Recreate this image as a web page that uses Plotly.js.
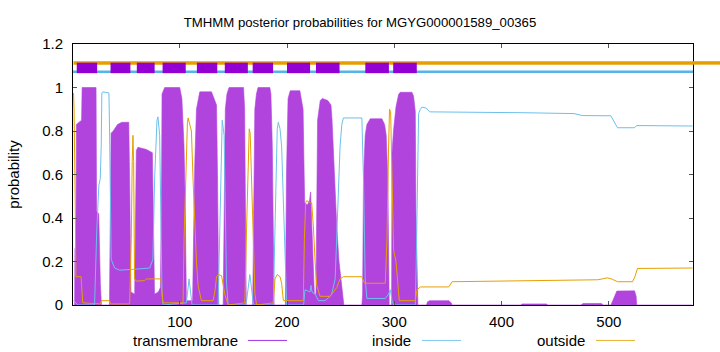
<!DOCTYPE html>
<html>
<head>
<meta charset="utf-8">
<script src="https://cdn.plot.ly/plotly-3.0.1.min.js"></script>
<style>html,body{margin:0;padding:0;background:#fff;}#chart{width:720px;height:352px;}</style>
</head>
<body>
<div id="chart"></div>
<script>
// Title and labels
const chartTitle = "TMHMM posterior probabilities for MGYG000001589_00365";
const seqLength = 578;

// Predicted transmembrane segments (top track), residue start/end
const tmSegStart = [4, 35.5, 60, 84, 116, 142, 168, 200, 227, 273, 299];
const tmSegEnd   = [23, 54, 76.6, 105.6, 135, 163.5, 187, 221.5, 249, 295, 321];

// Transmembrane posterior probability
const tmPos = [1,2,2.3,3.2,3.7,8.5,9,22,22.5,24.5,26,27,
 34.5,35.2,36,38,42,46,52.5,53.5,54.5,58,58.6,59.5,61,66,69,74.5,75.5,76.5,80,82,83,83.5,86,100,102,104,105,105.7,106.2,112,113.4,114,115.6,118.7,129.6,132,134.3,135.2,136.4,
 140.5,141.5,142.5,144,146,159.5,160.5,161.5,162,
 168,169,170,171.5,173,184,185,186.3,187.5,188,
 198.5,199.5,201,203,212,213.5,215,216,216.5,219,221,222,222.5,224.5,225.5,227,227.7,228.5,231,233,238,241,242,244,246.5,248.5,250.5,252,253,
 269.8,270.5,271.3,272.9,274.5,277.6,288.5,291,292.5,294,295.3,
 297.5,297.9,299.4,301.6,304,305.6,316.5,318,319.6,320.2,321,322,
 330,331,333,351,353,354,
 418,419,442,443,
 474,476,493,495,
 502,503.5,505,507.5,524,525.5,526,578];
const tmProb = [0,0,0.26,0.26,0.83,0.85,1.0,1.0,0.43,0.42,0.1,0,
 0,0.6,0.79,0.8,0.83,0.84,0.84,0.5,0.06,0.05,0.5,0.71,0.725,0.72,0.715,0.70,0.4,0.05,0.06,0.08,0.5,0.97,1.0,1.0,0.95,0.73,0.5,0.1,0.02,0.02,0.42,0.65,0.9,0.98,0.98,0.95,0.92,0.6,0,
 0,0.5,0.9,0.97,1.0,1.0,0.9,0.3,0,
 0,0.6,0.9,0.97,1.0,1.0,0.97,0.73,0.35,0,
 0,0.6,0.95,0.985,0.985,0.95,0.9,0.6,0.47,0.46,0.48,0.52,0.45,0.2,0.05,0.05,0.5,0.85,0.94,0.95,0.94,0.92,0.85,0.6,0.35,0.2,0.1,0.03,0,
 0,0.05,0.58,0.78,0.83,0.856,0.856,0.83,0.78,0.58,0,
 0,0.70,0.807,0.91,0.968,0.978,0.978,0.96,0.89,0.43,0.22,0,
 0,0.015,0.02,0.02,0.01,0,
 0,0.005,0.005,0,
 0,0.007,0.007,0,
 0,0.02,0.04,0.064,0.065,0.04,0,0];

// Inside posterior probability
const inPos = [1,3,5,20.6,22.7,24.6,25.9,26.8,27.4,28.3,34,34.6,35.2,36.1,39.3,43.9,59.5,72,75,76.6,78.8,79.7,81.3,82.2,83.5,84.5,106.2,108.7,110.9,111.5,135.8,137.4,139,139.6,141.4,142,143.6,145.2,161,162.3,165.4,168.5,169.5,187.2,189.7,190.9,191.9,193.5,195,196.6,198.1,199.7,215.5,216.8,221.5,222.4,223.3,226.2,229.3,235.5,240.2,241.7,244.9,246.4,247.9,249.5,251.1,252.6,269.8,271.3,272.9,274.5,291.6,294.7,296.3,297.9,299.4,319.6,320.5,321.5,322.7,324.3,325.8,329.9,333,420.9,467.6,475.4,501.9,508.1,523.7,526.2,578];
const inProb = [0.02,0.01,0,0,0.35,0.55,0.58,0.73,0.975,0.98,0.975,0.8,0.41,0.21,0.17,0.16,0.165,0.17,0.21,0.58,0.85,0.865,0.78,0.35,0.05,0,0.01,0.12,0.01,0,0,0.43,0.84,0.85,0.78,0.62,0.1,0,0,0.02,0.14,0.01,0,0,0.62,0.81,0.84,0.81,0.73,0.5,0.2,0,0,0.07,0.06,0.09,0.06,0.05,0.02,0.02,0.04,0.05,0.12,0.35,0.58,0.73,0.83,0.86,0.86,0.58,0.12,0.03,0.03,0.05,0.07,0.02,0,0,0.2,0.6,0.88,0.9,0.91,0.905,0.888,0.884,0.88,0.871,0.87,0.815,0.815,0.825,0.823];

// Outside posterior probability
const outPos = [1,1.5,2.5,3.2,8,9.6,26,27,34.6,35.5,53.3,54.8,55.7,56.4,57,57.3,57.9,59.5,67.3,68.9,82.4,84.4,103.1,104,105.3,106.2,107.2,107.8,109,110.9,112.4,114,115.6,117.1,120.2,131.1,132.7,134.3,135.8,139,140.5,142,145.2,160.7,162.3,163.9,164.8,165.7,167,168.5,170.1,171.7,187.2,188.8,190.9,193.5,195,196.6,215.2,216.2,217.4,218.4,221.5,223,224.6,226.2,227.7,230.8,240.2,241.7,246.4,249.5,252.6,269.8,272.3,291.6,293.2,294.7,295.6,296.6,297.9,298.5,299.4,301.6,303.5,304.7,319.6,321.2,324.3,350.8,353.9,402.2,439.6,467.6,489.4,494.1,498.8,503.4,508.1,522.1,524.3,526.8,548.6,578];
const outProb = [0.975,0.9,0.5,0.13,0.13,0.01,0.005,0.02,0.02,0.005,0.005,0.3,0.66,0.78,0.66,0.42,0.12,0.11,0.112,0.12,0.12,0.01,0.01,0.3,0.58,0.66,0.84,0.86,0.84,0.8,0.58,0.35,0.2,0.09,0.02,0.02,0.06,0.13,0.14,0.135,0.09,0.05,0,0.01,0.35,0.73,0.81,0.79,0.58,0.27,0.05,0,0.01,0.12,0.14,0.13,0.1,0.02,0.02,0.3,0.47,0.48,0.47,0.47,0.36,0.2,0.09,0.04,0.04,0.05,0.08,0.12,0.13,0.13,0.1,0.1,0.3,0.73,0.9,0.89,0.58,0.4,0.25,0.2,0.1,0.02,0.02,0.07,0.083,0.083,0.107,0.11,0.111,0.116,0.116,0.12,0.125,0.118,0.107,0.107,0.13,0.168,0.168,0.17];

// Top track levels
const outsideTrackY = 1.113;
const insideTrackY = 1.072;
const tmTrackY = 1.09;

const PURPLE = '#9400d3', TMFILL = '#b144dd', BLUE = '#56b4e9', ORANGE = '#e69f00';

const segX = [], segY = [];
tmSegStart.forEach((s, i) => { segX.push(s, tmSegEnd[i], null); segY.push(tmTrackY, tmTrackY, null); });

const traces = [
  {x: tmPos, y: tmProb, type: 'scatter', mode: 'lines', fill: 'tozeroy',
   line: {color: TMFILL, width: 0.6}, fillcolor: TMFILL, hoverinfo: 'skip'},
  {x: inPos, y: inProb, type: 'scatter', mode: 'lines', line: {color: '#6cc0ec', width: 1}},
  {x: outPos, y: outProb, type: 'scatter', mode: 'lines', line: {color: ORANGE, width: 1}},
  {x: [1, seqLength + 0.5], y: [outsideTrackY, outsideTrackY], type: 'scatter', mode: 'lines', line: {color: ORANGE, width: 3.5}},
  {x: [0.5, seqLength + 0.5], y: [insideTrackY, insideTrackY], type: 'scatter', mode: 'lines', line: {color: BLUE, width: 2.5}},
  {x: segX, y: segY, type: 'scatter', mode: 'lines', line: {color: PURPLE, width: 10.5}}
];

const fontFam = '"Liberation Sans", Arial, Helvetica, sans-serif';
const L = 73, R = 693, T = 44, B = 305.5;
const px2paperX = p => (p - L) / (R - L);
const px2paperY = p => (B - p) / (B - T);
const legY = px2paperY(341);
const legend = [
  {text: 'transmembrane', right: 240, s0: 248, s1: 287, color: '#a033e8'},
  {text: 'inside', right: 413, s0: 422, s1: 461, color: '#80c8f0'},
  {text: 'outside', right: 587, s0: 596, s1: 635, color: '#ecae30'}
];

const layout = {
  width: 720, height: 352,
  margin: {l: L, r: 720 - R, t: T, b: 352 - B},
  paper_bgcolor: '#fff', plot_bgcolor: '#fff',
  showlegend: false,
  font: {family: fontFam, size: 15, color: '#000'},
  title: {text: chartTitle, x: 0.5, xanchor: 'center', y: 1 - 22/352, yanchor: 'middle',
          font: {family: fontFam, size: 13.2, color: '#000'}},
  xaxis: {range: [0.5, seqLength + 0.5], tickvals: [100, 200, 300, 400, 500],
          ticks: 'inside', ticklen: 4, tickcolor: '#555', showline: true, linecolor: '#000', linewidth: 1,
          mirror: 'ticks', showgrid: false, zeroline: false, tickfont: {size: 15}, ticklabelstandoff: 3},
  yaxis: {range: [0, 1.2], dtick: 0.2, tick0: 0, ticks: 'inside', ticklen: 4, tickcolor: '#555',
          showline: true, linecolor: '#000', linewidth: 1, mirror: 'ticks', showgrid: false, zeroline: false,
          tickfont: {size: 15}, ticklabelstandoff: 6, title: {text: 'probability', font: {size: 15}, standoff: 18}},
  shapes: [
    {type: 'line', xref: 'paper', yref: 'y', x0: 1, x1: (720 - L) / (R - L), y0: outsideTrackY, y1: outsideTrackY,
     line: {color: ORANGE, width: 3.5}, layer: 'above'}
  ].concat(legend.map(d => ({type: 'line', xref: 'paper', yref: 'paper', x0: px2paperX(d.s0), x1: px2paperX(d.s1),
     y0: legY, y1: legY, line: {color: d.color, width: 1}}))),
  annotations: legend.map(d => ({text: d.text, xref: 'paper', yref: 'paper', x: px2paperX(d.right), y: legY,
     xanchor: 'right', yanchor: 'middle', showarrow: false, font: {size: 15}}))
};

Plotly.newPlot('chart', traces, layout, {displayModeBar: false, staticPlot: true});
</script>
</body>
</html>
